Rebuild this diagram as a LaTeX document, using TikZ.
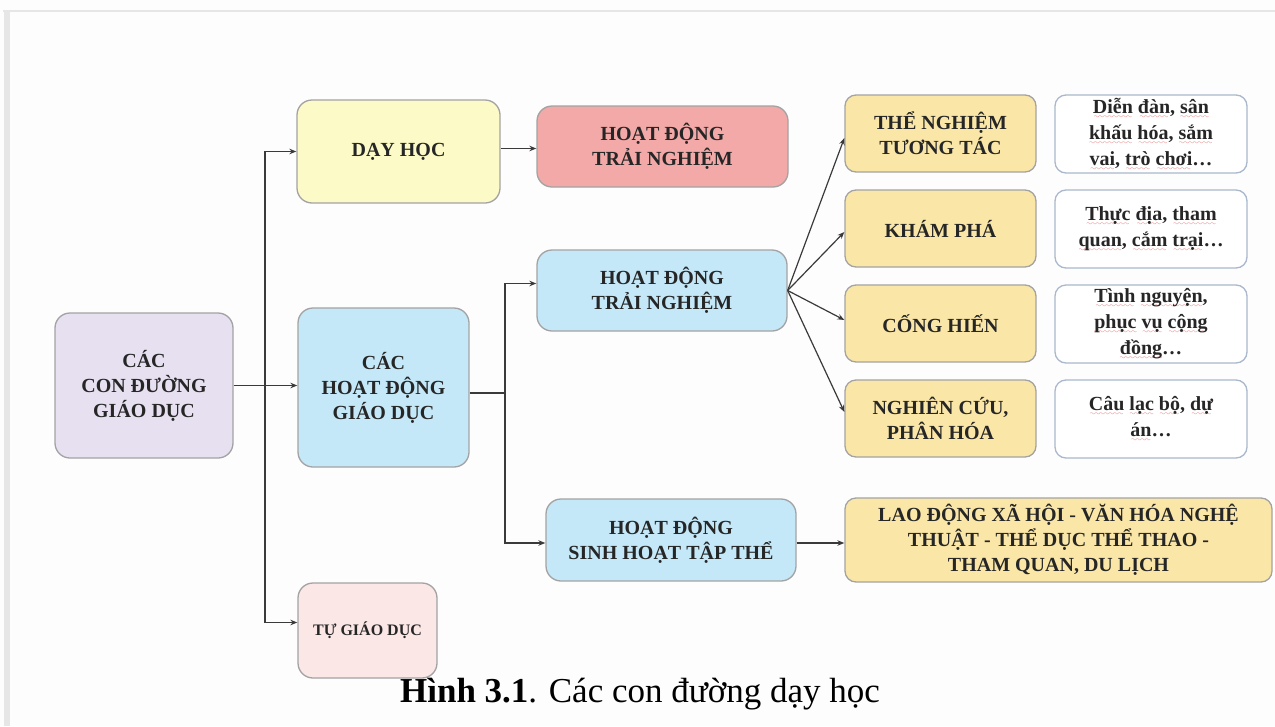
\documentclass[tikz,border=0pt]{standalone}
\usepackage{fontspec}
\setmainfont{Liberation Serif}
\usetikzlibrary{arrows.meta}

\definecolor{pagebg}{HTML}{FDFDFD}
\definecolor{framegray}{HTML}{E6E6E6}
\definecolor{edgegray}{HTML}{A3A3A3}
\definecolor{linecol}{HTML}{3A3A3A}
\definecolor{txt}{HTML}{262626}
\definecolor{lavender}{HTML}{E7E0F1}
\definecolor{paleyellow}{HTML}{FCFAC6}
\definecolor{salmon}{HTML}{F2A9A7}
\definecolor{skyblue}{HTML}{C4E8F8}
\definecolor{palepink}{HTML}{FBE7E6}
\definecolor{gold}{HTML}{FAE7A8}
\definecolor{noteedge}{HTML}{A9B8CC}
\definecolor{wavered}{HTML}{E04848}

% wavy red underline for the note texts
\font\wavefont=lasy10 at 7pt
\newsavebox\sqbox
\newcommand\sq[1]{\sbox\sqbox{#1}%
  \rlap{\lower5pt\hbox to \wd\sqbox{\cleaders\hbox{\wavefont\textcolor{wavered}{\char58}}\hfill}}%
  \usebox\sqbox}

\begin{document}
\begin{tikzpicture}[x=1pt,y=-1pt,
  box/.style={draw=edgegray, line width=1.3pt, rounded corners=15pt,
    align=center, text=txt, inner sep=2pt,
    font=\fontsize{20}{25}\selectfont\bfseries},
  smallbox/.style={box, rounded corners=11pt},
  notebox/.style={smallbox, draw=noteedge, fill=white,
    font=\fontsize{20}{26}\selectfont\bfseries},
  conn/.style={draw=linecol, line width=1.2pt},
  arr/.style={conn, -{Stealth[length=7pt,width=5.5pt]}}]

% page and frame
\fill[pagebg] (0,0) rectangle (1275,726);
\useasboundingbox (0,0) rectangle (1275,726);
\draw[framegray, line width=2pt] (3,11) -- (1275,11);
\draw[framegray, line width=6pt] (7,11) -- (7,726);

% main nodes
\node[box, fill=lavender, minimum width=178, minimum height=145] (root) at (144,385.5)
  {CÁC\\CON ĐƯỜNG\\GIÁO DỤC};
\node[box, fill=paleyellow, minimum width=203, minimum height=103] (dayhoc) at (398.5,151.5)
  {DẠY HỌC};
\node[box, fill=salmon, minimum width=251, minimum height=81] (tnred) at (662.5,146.5)
  {HOẠT ĐỘNG\\TRẢI NGHIỆM};
\node[box, fill=skyblue, minimum width=171, minimum height=159] (gd) at (383.5,387.5)
  {CÁC\\HOẠT ĐỘNG\\GIÁO DỤC};
\node[box, fill=palepink, minimum width=139, minimum height=95,
  font=\fontsize{16}{20}\selectfont\bfseries] (tgd) at (367.5,630.5)
  {TỰ GIÁO DỤC};
\node[box, fill=skyblue, minimum width=250, minimum height=81] (tn) at (662,290.5)
  {HOẠT ĐỘNG\\TRẢI NGHIỆM};
\node[box, fill=skyblue, minimum width=250, minimum height=82] (sh) at (671,540)
  {HOẠT ĐỘNG\\SINH HOẠT TẬP THỂ};
\node[smallbox, fill=gold, minimum width=427, minimum height=84] (lao) at (1058.5,540)
  {LAO ĐỘNG XÃ HỘI - VĂN HÓA NGHỆ\\THUẬT - THỂ DỤC THỂ THAO -\\THAM QUAN, DU LỊCH};

% forms of experiential activity
\node[smallbox, fill=gold, minimum width=191, minimum height=77] (y1) at (940.5,133.5)
  {THỂ NGHIỆM\\TƯƠNG TÁC};
\node[smallbox, fill=gold, minimum width=191, minimum height=77] (y2) at (940.5,228.5)
  {KHÁM PHÁ};
\node[smallbox, fill=gold, minimum width=191, minimum height=77] (y3) at (940.5,323.5)
  {CỐNG HIẾN};
\node[smallbox, fill=gold, minimum width=191, minimum height=77] (y4) at (940.5,418.5)
  {NGHIÊN CỨU,\\PHÂN HÓA};

% examples
\node[notebox, minimum width=192, minimum height=78] (n1) at (1151,134)
  {\sq{Diễn} \sq{đàn}, \sq{sân}\\\sq{khấu} \sq{hóa}, \sq{sắm}\\\sq{vai}, \sq{trò} \sq{chơi}…};
\node[notebox, minimum width=192, minimum height=78] (n2) at (1151,229)
  {\sq{Thực} \sq{địa}, \sq{tham}\\\sq{quan}, \sq{cắm} \sq{trại}…};
\node[notebox, minimum width=192, minimum height=78] (n3) at (1151,324)
  {\sq{Tình} \sq{nguyện},\\\sq{phục} \sq{vụ} \sq{cộng}\\\sq{đồng}…};
\node[notebox, minimum width=192, minimum height=78] (n4) at (1151,419)
  {\sq{Câu} \sq{lạc} \sq{bộ}, \sq{dự}\\\sq{án}…};

% connectors from the root
\coordinate (t1) at (265,385.5);
\draw[arr] (root.east) -- (root.east -| gd.west);
\draw[arr] (t1) |- (dayhoc.west);
\draw[arr] (t1) |- ([yshift=8pt]tgd.west);
\draw[arr] ([yshift=3pt]dayhoc.east) -- ([yshift=3pt]dayhoc.east -| tnred.west);

% connectors from the educational activities
\coordinate (t2) at (505,393);
\draw[conn] (gd.east |- t2) -- (t2);
\draw[arr] (t2) |- ([yshift=7pt]tn.west);
\draw[arr] (t2) |- ([yshift=-3pt]sh.west);
\draw[arr] ([yshift=-3pt]sh.east) -- ([yshift=-3pt]sh.east -| lao.west);

% fan of experiential forms
\draw[arr] (tn.east) -- ([yshift=-4.5pt]y1.west);
\draw[arr] (tn.east) -- ([yshift=-3.5pt]y2.west);
\draw[arr] (tn.east) -- ([yshift=3.5pt]y3.west);
\draw[arr] (tn.east) -- ([yshift=6.5pt]y4.west);

% caption
\node[font=\fontsize{35}{40}\selectfont, text=black] (cap) at (640,694)
  {\textbf{Hình 3.1}. Các con đường dạy học};
\end{tikzpicture}
\end{document}
